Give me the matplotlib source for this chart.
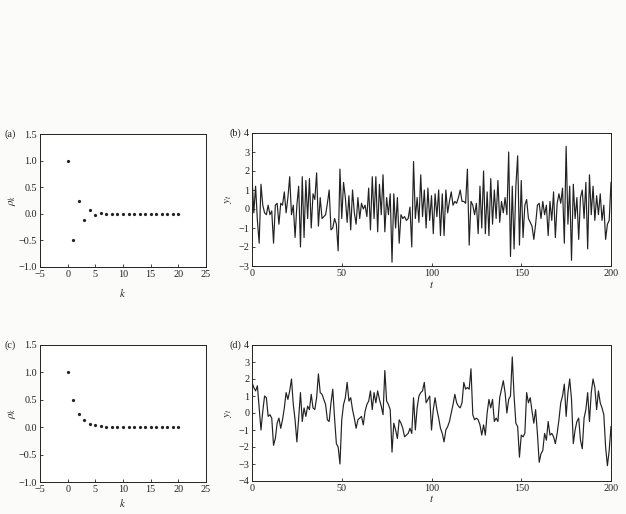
import numpy as np
import matplotlib
matplotlib.use("Agg")
import matplotlib.pyplot as plt

# ---- data ----
lags = list(range(0, 21))
acf_a = [(-0.5) ** k for k in lags]   # rho_k for phi = -0.5
acf_c = [(0.5) ** k for k in lags]    # rho_k for phi = 0.5

series_b = [1.7, -0.2, 1.2, -0.6, -1.8, 1.3, 0.2, -0.2, -0.3, 0.2,
            -0.3, -0.1, -1.8, 0.2, 0.3, -0.8, 0.3, 0.2, 0.9, -0.2,
            0.6, 1.7, -0.3, 0.2, -1.5, 0.2, 1.2, -2.0, 1.7, -1.5,
            1.5, -0.5, 1.6, -1.0, 0.8, 0.5, 1.9, -0.9, 0.6, -0.5,
            -0.4, -0.3, 0.3, 1.0, -1.1, -1.0, -0.5, -0.8, -2.2, 2.1,
            -0.5, 1.4, 0.6, -0.7, 0.7, -1.1, 1.0, -0.2, -0.8, 0.6,
            -0.5, 0.3, 0.0, 0.2, -0.4, 1.1, -1.1, 1.7, -0.5, 1.7,
            -1.2, 1.3, -0.3, 1.8, -1.2, 0.6, -0.3, 0.8, -2.8, 0.8,
            -1.0, 0.6, -1.8, -0.3, -0.5, -0.4, -0.6, -0.5, 0.1, -2.0,
            2.5, -0.5, 0.6, -0.7, 1.8, -0.4, 1.0, -1.0, 1.1, -0.6,
            0.7, -1.3, 0.8, -0.4, 1.0, -1.4, 0.8, -1.4, 1.0, -0.2,
            0.4, 0.9, 0.2, 0.4, 0.3, 0.6, 1.0, 0.4, 0.4, 0.3,
            2.1, -1.9, 0.4, 0.2, -0.3, 0.3, -1.3, 1.2, -1.0, 2.0,
            -1.3, 0.9, -1.4, 1.6, -0.8, 1.0, -0.5, 1.5, -0.7, 0.4,
            -0.2, 0.6, -0.3, 3.0, -2.5, 1.2, -2.1, 1.2, 2.8, -1.9,
            1.5, -1.5, 0.2, 0.5, -0.5, -0.7, -0.9, -1.6, -0.8, 0.2,
            0.3, -0.5, 0.4, -0.3, 0.2, -1.4, 0.4, -0.6, 0.9, -1.5,
            0.3, 0.8, 0.3, 1.1, -1.8, 3.3, -0.8, 1.2, -2.7, 1.3,
            -0.5, 0.6, -1.6, 0.6, 1.0, -0.5, 1.4, -2.1, 1.8, -0.3,
            1.2, -0.6, 0.7, -0.3, 0.8, -0.6, 0.2, -1.6, -0.8, -0.6,
            1.4]

series_d = [1.8, 1.5, 1.3, 1.6, 0.3, -1.0, 0.1, 1.0, 0.9, -0.2,
            -0.1, -0.3, -1.9, -1.5, -0.6, -0.3, -0.9, -0.4, 0.3, 1.2,
            0.8, 1.3, 2.0, 0.5, -0.4, -1.7, -0.3, 1.2, -0.5, 0.3,
            -0.2, 0.4, 0.2, 1.1, 0.3, 0.2, 0.9, 2.3, 1.2, 1.1,
            0.8, 0.5, -0.4, -0.5, 0.6, 1.4, -0.3, -1.8, -2.0, -3.0,
            -0.4, 0.5, 0.9, 1.8, 0.7, 0.9, 0.2, -0.3, -0.9, -0.4,
            -0.3, -0.2, -0.7, 0.1, 0.5, 0.7, 1.3, 0.2, 1.2, 0.6,
            1.3, 0.8, 0.4, -0.1, 2.5, 0.7, 0.5, 0.2, -2.3, -0.6,
            -1.0, -1.5, -0.4, -0.6, -0.9, -1.4, -1.3, -1.2, -0.9, -1.2,
            0.9, -1.0, 0.3, 1.0, 1.2, 1.3, 1.8, 0.6, 0.8, 1.0,
            -1.0, 0.2, 0.9, 0.2, -0.3, -0.9, -1.2, -1.7, -1.0, -0.8,
            -0.5, 0.0, 0.5, 1.1, 0.6, 0.4, 0.3, 0.6, 1.8, 1.4,
            1.5, 1.4, 2.6, -0.1, -0.4, -0.3, -0.4, -0.7, -1.3, -0.7,
            -1.3, 0.0, 0.8, 0.3, 0.8, -0.5, -0.3, -0.5, 0.9, 1.4,
            1.9, 1.2, 0.0, 0.8, 1.0, 3.3, 1.0, -0.6, -0.8, -2.6,
            -1.3, -1.4, -1.2, 1.2, 0.6, 0.9, 0.1, -0.6, 0.2, -1.2,
            -2.9, -2.4, -2.2, -1.2, -1.6, -0.5, -1.3, -1.2, -1.4, -1.8,
            -1.2, -0.4, 0.6, 1.0, 1.7, -0.2, 1.2, 2.0, 0.8, -1.8,
            -1.0, -0.5, -0.3, -1.6, -2.1, -0.3, 0.2, 1.2, -0.5, 1.2,
            2.0, 1.5, 0.2, 1.3, 0.6, 0.3, -0.1, -2.0, -3.1, -2.2,
            -0.8]

time_idx = list(range(len(series_b)))

acf_xticks = [-5, 0, 5, 10, 15, 20, 25]
acf_yticks = [-1.0, -0.5, 0.0, 0.5, 1.0, 1.5]
ts_xticks = [0, 50, 100, 150, 200]
ts_b_yticks = [-3, -2, -1, 0, 1, 2, 3, 4]
ts_d_yticks = [-4, -3, -2, -1, 0, 1, 2, 3, 4]

# ---- style ----
plt.rcParams['font.family'] = ['Liberation Serif', 'DejaVu Serif']
plt.rcParams['mathtext.fontset'] = 'stix'
ink = '#222222'
fs = 7.3

W, H = 626, 514
fig = plt.figure(figsize=(W / 100, H / 100), dpi=100, facecolor='#fbfbfa')

def rect(x0, y0, x1, y1):
    return [x0 / W, 1 - y1 / H, (x1 - x0) / W, (y1 - y0) / H]

ax_a = fig.add_axes(rect(40, 134, 206, 267))
ax_b = fig.add_axes(rect(252, 133, 611, 266))
ax_c = fig.add_axes(rect(40, 345, 206, 482))
ax_d = fig.add_axes(rect(252, 345, 611, 481))

def style(ax):
    ax.set_facecolor('white')
    for s in ax.spines.values():
        s.set_color(ink)
        s.set_linewidth(0.7)
    ax.tick_params(direction='in', length=2.5, width=0.6, colors=ink,
                   labelsize=fs, pad=2, top=False, right=False)

def fmt_acf(v):
    s = f"{v:.1f}"
    return s.replace('-', '\u2212')

for ax, acf, lab, xl_y in [(ax_a, acf_a, '(a)', -0.15),
                           (ax_c, acf_c, '(c)', -0.11)]:
    style(ax)
    ax.plot(lags, acf, linestyle='none', marker='o', markersize=1.3,
            color=ink)
    ax.set_xlim(-5, 25)
    ax.set_ylim(-1.0, 1.5)
    ax.set_xticks(acf_xticks)
    ax.set_xticklabels([str(t).replace('-', '\u2212') for t in acf_xticks])
    ax.set_yticks(acf_yticks)
    ax.set_yticklabels([fmt_acf(v) for v in acf_yticks])
    ax.set_xlabel('$k$', fontsize=fs + 0.5, color=ink)
    ax.set_ylabel(r'$\rho_k$', fontsize=fs + 0.5, color=ink)
    ax.xaxis.set_label_coords(0.5, xl_y)
    ax.yaxis.set_label_coords(-0.13, 0.5)
    ax.text(-0.145, 1.0, lab, transform=ax.transAxes, ha='right',
            va='center', fontsize=fs, color=ink)

for ax, ser, yt, lab, xl_y in [(ax_b, series_b, ts_b_yticks, '(b)', -0.095),
                               (ax_d, series_d, ts_d_yticks, '(d)', -0.09)]:
    style(ax)
    ax.plot(time_idx, ser, color=ink, linewidth=0.85)
    ax.set_xlim(0, 200)
    ax.set_ylim(yt[0], yt[-1])
    ax.set_xticks(ts_xticks)
    ax.set_yticks(yt)
    ax.set_yticklabels([str(v).replace('-', '\u2212') for v in yt])
    ax.set_xlabel('$t$', fontsize=fs + 0.5, color=ink)
    ax.set_ylabel('$y_t$', fontsize=fs + 0.5, color=ink)
    ax.xaxis.set_label_coords(0.5, xl_y)
    ax.yaxis.set_label_coords(-0.05, 0.5)
    ax.text(-0.03, 1.0, lab, transform=ax.transAxes, ha='right',
            va='center', fontsize=fs, color=ink)

fig.savefig('out.png', dpi=100, facecolor=fig.get_facecolor())
